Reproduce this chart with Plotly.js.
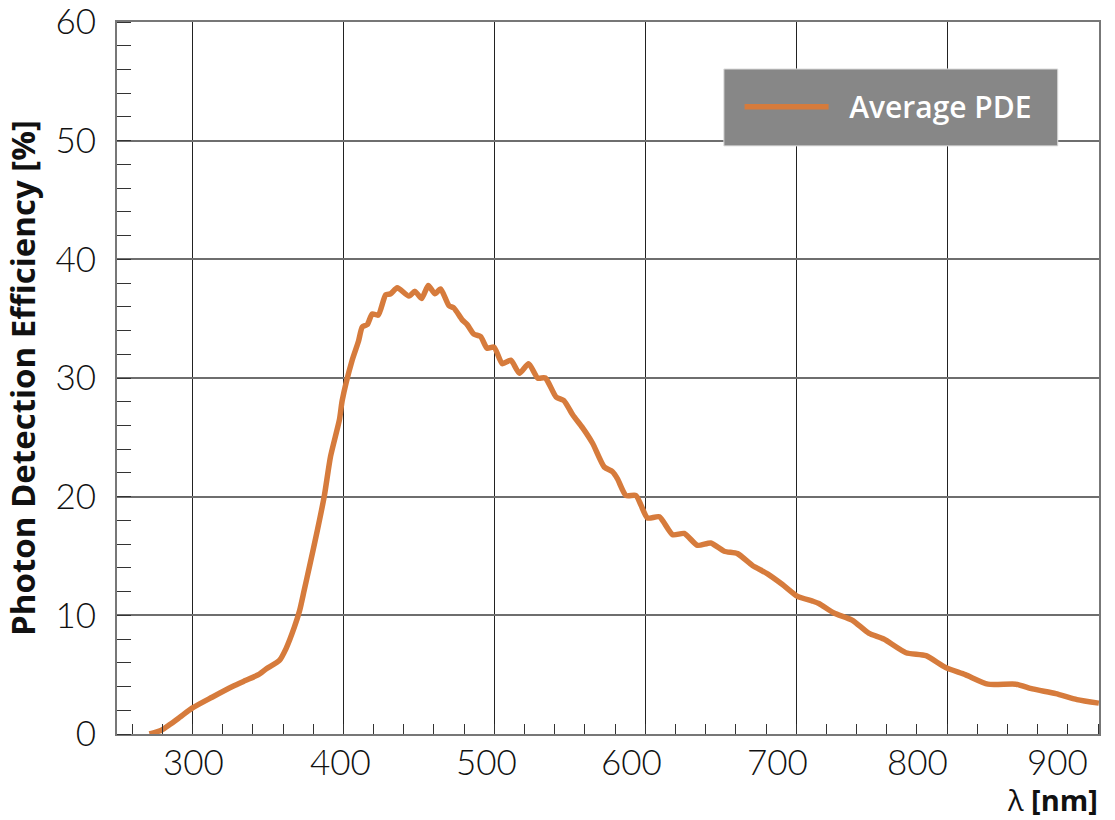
<!DOCTYPE html>
<html>
<head>
<meta charset="utf-8">
<script src="https://cdn.plot.ly/plotly-3.0.1.min.js"></script>
<style>
  html, body { margin: 0; padding: 0; background: #ffffff; }
  #chart { width: 1115px; height: 820px; }
</style>
</head>
<body>
<div id="chart"></div>
<script>
// Average photon detection efficiency versus wavelength
const wavelengthNm = [
  271.5, 279, 285, 291.5, 300, 313, 326.5, 335, 343.7, 349, 357.6, 362, 367.5, 371, 374,
  377.5, 382.8, 387.4, 391.5, 397.4, 399.2, 405.8, 410, 412.5, 415.8, 419.1, 423.1, 428,
  431.3, 435.7, 443.4, 447.4, 451.8, 456.2, 460.6, 464.4, 469.9, 473.2, 478.7, 482, 486.4,
  490.9, 495.2, 499.8, 505.3, 510.9, 516.6, 522.7, 528.7, 533.8, 540.9, 546, 551.9, 558.5,
  565.1, 572.8, 578.3, 581.6, 587.2, 593.8, 597.1, 601.5, 609.3, 618.1, 625.8, 634.6, 643.4,
  652.3, 661.1, 671, 681, 690.9, 700.9, 710.8, 715, 725, 737, 748, 758, 772.7, 786, 799,
  812, 827, 845.5, 856.5, 872, 886, 900.5
];
const pdePercent = [
  0.0, 0.3, 0.8, 1.4, 2.2, 3.1, 4.0, 4.5, 5.0, 5.5, 6.2, 7.2, 9.0, 10.4, 12.1,
  14.1, 17.2, 20.1, 23.4, 26.5, 28.1, 31.5, 33.1, 34.3, 34.5, 35.4, 35.3, 37.0,
  37.1, 37.6, 36.9, 37.3, 36.7, 37.8, 37.1, 37.5, 36.1, 35.9, 34.9, 34.5, 33.7,
  33.5, 32.5, 32.6, 31.2, 31.5, 30.4, 31.2, 30.0, 30.0, 28.4, 28.1, 26.9, 25.8,
  24.5, 22.5, 22.1, 21.5, 20.1, 20.1, 19.3, 18.2, 18.3, 16.8, 16.9, 15.9, 16.1,
  15.4, 15.2, 14.2, 13.5, 12.6, 11.6, 11.2, 11.0, 10.2, 9.6, 8.5, 8.0, 6.85, 6.6, 5.6,
  5.0, 4.2, 4.2, 3.8, 3.4, 2.9, 2.6
];
const xTickValues = [300, 400, 500, 600, 700, 800, 900];
const xTickLabels = ['300', '400', '500', '600', '700', '800', '900'];
const yTickValues = [0, 10, 20, 30, 40, 50, 60];
const yTickLabels = ['0', '10', '20', '30', '40', '50', '60'];

const seriesName = '\u00a0\u00a0Average PDE';
const lineColor = '#d67b3c';
const tickFont = { family: 'Lato, sans-serif', size: 35, color: '#111111', weight: 300 };

// wavelength labels sit under their gridlines, nudged left towards the right end
const xLabelNudge = [1, -3, -8, -14, -19, -30, -41];

const traces = [{
  x: wavelengthNm,
  y: pdePercent,
  type: 'scatter',
  mode: 'lines',
  name: seriesName,
  line: { color: lineColor, width: 5.5, shape: 'spline', smoothing: 0.6 },
  showlegend: true
}];

const xLabelAnnotations = xTickValues.map((v, i) => ({
  xref: 'x', yref: 'paper',
  x: v, y: 0,
  xanchor: 'center', yanchor: 'top',
  yshift: -5,
  xshift: xLabelNudge[i],
  borderpad: 0,
  showarrow: false,
  text: xTickLabels[i],
  font: tickFont
}));

const layout = {
  width: 1115,
  height: 820,
  margin: { l: 117, r: 16, t: 22, b: 86 },
  paper_bgcolor: '#ffffff',
  plot_bgcolor: '#ffffff',
  showlegend: true,
  xaxis: {
    range: [250, 900.6],
    tickvals: xTickValues,
    showticklabels: false,
    ticks: '',
    showgrid: true,
    gridcolor: '#222222',
    gridwidth: 1,
    zeroline: false,
    showline: true,
    linecolor: '#777777',
    linewidth: 2,
    mirror: true,
    minor: { dtick: 20, ticks: 'inside', ticklen: 10, tickcolor: '#333333', tickwidth: 1, showgrid: false }
  },
  yaxis: {
    range: [0, 60],
    tickvals: yTickValues,
    ticktext: yTickLabels,
    ticks: '',
    ticklabelstandoff: 12,
    ticklabeloverflow: 'allow',
    tickfont: tickFont,
    showgrid: true,
    gridcolor: '#6e6e6e',
    gridwidth: 2,
    zeroline: false,
    showline: true,
    linecolor: '#777777',
    linewidth: 2,
    mirror: true,
    minor: { dtick: 2, ticks: 'inside', ticklen: 14, tickcolor: '#333333', tickwidth: 1, showgrid: false },
    title: {
      text: 'Photon Detection Efficiency [%]',
      font: { family: '"Open Sans", sans-serif', size: 33, color: '#111111', weight: 700 },
      standoff: 14
    }
  },
  legend: {
    x: 0.634,
    y: 0.881,
    xanchor: 'left',
    yanchor: 'middle',
    bgcolor: 'rgba(0,0,0,0)',
    borderwidth: 0,
    itemwidth: 84,
    font: { family: '"Open Sans", sans-serif', size: 30, color: '#ffffff', weight: 600 }
  },
  shapes: [{
    type: 'rect',
    xref: 'paper', yref: 'paper',
    x0: 0.618, x1: 0.958, y0: 0.826, y1: 0.934,
    fillcolor: '#878787',
    line: { color: '#dddddd', width: 1 },
    layer: 'above'
  }],
  annotations: xLabelAnnotations.concat([{
    xref: 'paper', yref: 'paper',
    x: 1.0, y: -0.1205,
    xanchor: 'right', yanchor: 'bottom',
    borderpad: 0,
    showarrow: false,
    text: 'λ <b>[nm]</b>',
    font: { family: '"Open Sans", sans-serif', size: 29, color: '#111111' }
  }])
};

Plotly.newPlot('chart', traces, layout, { displayModeBar: false, staticPlot: true });
</script>
</body>
</html>
